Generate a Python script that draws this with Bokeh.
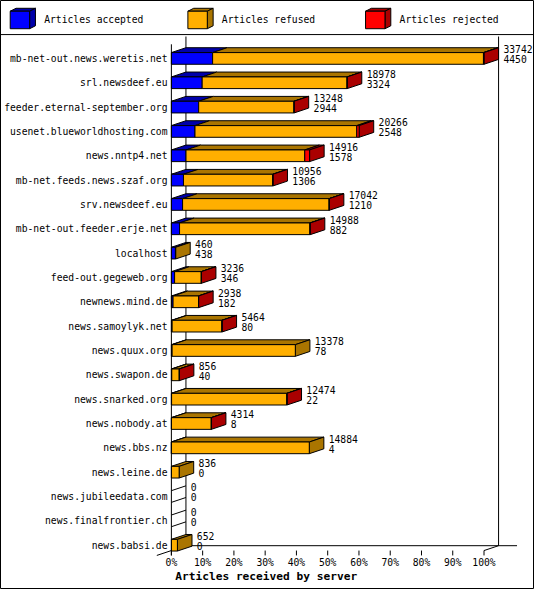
from bokeh.plotting import figure
from bokeh.models import Range1d
from bokeh.core.properties import value
from bokeh.embed import file_html
from bokeh.resources import INLINE

servers = ["mb-net-out.news.weretis.net", "srl.newsdeef.eu", "feeder.eternal-september.org",
           "usenet.blueworldhosting.com", "news.nntp4.net", "mb-net.feeds.news.szaf.org",
           "srv.newsdeef.eu", "mb-net-out.feeder.erje.net", "localhost", "feed-out.gegeweb.org",
           "newnews.mind.de", "news.samoylyk.net", "news.quux.org", "news.swapon.de",
           "news.snarked.org", "news.nobody.at", "news.bbs.nz", "news.leine.de",
           "news.jubileedata.com", "news.finalfrontier.ch", "news.babsi.de"]
total = [33742, 18978, 13248, 20266, 14916, 10956, 17042, 14988, 460, 3236, 2938,
         5464, 13378, 856, 12474, 4314, 14884, 836, 0, 0, 652]
accepted = [4450, 3324, 2944, 2548, 1578, 1306, 1210, 882, 438, 346, 182,
            80, 78, 40, 22, 8, 4, 0, 0, 0, 0]
refused = [29232, 15634, 10284, 17458, 12818, 9635, 15812, 14066, 22, 2880, 2750,
           5374, 13300, 812, 12440, 4300, 14880, 836, 0, 0, 652]
rejected = [60, 20, 20, 260, 520, 15, 20, 40, 0, 10, 6,
            10, 0, 4, 12, 6, 0, 0, 0, 0, 0]
pct_ticks = [0, 10, 20, 30, 40, 50, 60, 70, 80, 90, 100]

series = [("Articles accepted", accepted, "#0000FF", "#0000AA"),
          ("Articles refused", refused, "#FFAF00", "#AA7500"),
          ("Articles rejected", rejected, "#FF0000", "#AA0000")]

# layout is worked out on the 550x605 original, then shrunk to fit the page
REF_W, REF_H = 550, 605
W, H = 534, 589
S = W / REF_W
X0, PX_PCT = 176, 3.22      # 0% position, pixels per percent
Y0, ROW = 59.5, 25          # first row centre, row pitch
DX, DY = 15 / PX_PCT, 5 / ROW
BAR_H = 0.48
FLOOR = (565 - Y0) / ROW
TOP = (37 - Y0) / ROW
FONT = value("DejaVu Sans Mono")
fs = lambda px: "%.1fpx" % (px * S)

p = figure(width=W, height=H, output_backend="svg", toolbar_location=None,
           x_range=Range1d(-X0 / PX_PCT, (REF_W - X0) / PX_PCT),
           y_range=Range1d((REF_H - Y0) / ROW, -Y0 / ROW),
           x_axis_location=None, y_axis_location=None, min_border=0)
p.extra_x_ranges = {"px": Range1d(0, REF_W)}
p.extra_y_ranges = {"px": Range1d(REF_H, 0)}
p.xgrid.visible = False
p.ygrid.visible = False
p.outline_line_color = "black"
p.background_fill_color = "white"
p.border_fill_color = "white"

# legend strip
p.segment(x0=[0], y0=[35], x1=[REF_W], y1=[35], line_color="black",
          x_range_name="px", y_range_name="px")
for k, (name, vals, c, dark) in enumerate(series):
    lx = 10 + 183 * k
    p.patches(xs=[[lx, lx + 20, lx + 26, lx + 6], [lx + 20, lx + 20, lx + 26, lx + 26]],
              ys=[[11, 11, 8, 8], [11, 29, 26, 8]], fill_color=dark, line_color="black",
              x_range_name="px", y_range_name="px")
    p.quad(left=[lx], right=[lx + 20], top=[11], bottom=[29], fill_color=c,
           line_color="black", x_range_name="px", y_range_name="px")
    p.text(x=[lx + 35], y=[20], text=[name], text_font=FONT, text_font_size=fs(10),
           text_baseline="middle", x_range_name="px", y_range_name="px")

# walls and floor
walls_x0 = [DX, 100 + DX, DX, -DX, 100]
walls_y0 = [TOP, TOP, FLOOR - DY, FLOOR + DY, FLOOR]
walls_x1 = [DX, 100 + DX, 100 + DX + 19 / PX_PCT, DX, 100 + DX]
walls_y1 = [FLOOR - DY, FLOOR - DY, FLOOR - DY, FLOOR - DY, FLOOR - DY]
p.segment(x0=walls_x0, y0=walls_y0, x1=walls_x1, y1=walls_y1, line_color="black")
p.segment(x0=pct_ticks, y0=[FLOOR] * len(pct_ticks), x1=pct_ticks,
          y1=[FLOOR + 5 / ROW] * len(pct_ticks), line_color="black")
p.text(x=pct_ticks, y=[(577 - Y0) / ROW] * len(pct_ticks),
       text=["%d%%" % t for t in pct_ticks], text_font=FONT, text_font_size=fs(10),
       text_align="center", text_baseline="middle")

# bars
maxv = max(total)
fl, fr, ft, fb, fc = [], [], [], [], []
pxs, pys, pc = [], [], []
zx0, zy0, zx1, zy1 = [], [], [], []
lab_x, lab_y, lab_t = [], [], []
for i in range(len(servers)):
    yt, yb = i - BAR_H / 2, i + BAR_H / 2
    x = 0.0
    last = None
    for name, vals, c, dark in series:
        v = vals[i]
        if v == 0:
            continue
        w = v / maxv * 100
        fl.append(x); fr.append(x + w); ft.append(yt); fb.append(yb); fc.append(c)
        pxs.append([x, x + w, x + w + DX, x + DX]); pys.append([yt, yt, yt - DY, yt - DY])
        pc.append(dark)
        x += w
        last = dark
    if last:
        pxs.append([x, x, x + DX, x + DX]); pys.append([yt, yb, yb - DY, yt - DY])
        pc.append(last)
    else:
        zx0 += [0, 0]; zy0 += [yt, yb]; zx1 += [DX, DX]; zy1 += [yt - DY, yb - DY]
    lab_x += [x + 20 / PX_PCT] * 2
    lab_y += [i - 9.5 / ROW, i + 1.0 / ROW]
    lab_t += [str(total[i]), str(accepted[i])]

p.segment(x0=zx0, y0=zy0, x1=zx1, y1=zy1, line_color="black")
p.patches(xs=pxs, ys=pys, fill_color=pc, line_color="black")
p.quad(left=fl, right=fr, top=ft, bottom=fb, fill_color=fc, line_color="black")
p.segment(x0=[0], y0=[(45 - Y0) / ROW], x1=[0], y1=[(570 - Y0) / ROW], line_color="black")

p.text(x=lab_x, y=lab_y, text=lab_t, text_font=FONT, text_font_size=fs(10),
       text_baseline="middle")
p.text(x=[-4 / PX_PCT] * len(servers), y=list(range(len(servers))), text=servers,
       text_font=FONT, text_font_size=fs(10), text_align="right", text_baseline="middle")
p.text(x=[4 / PX_PCT], y=[(592 - Y0) / ROW], text=["Articles received by server"],
       text_font=value("DejaVu Sans Mono"), text_font_style="bold",
       text_font_size=fs(11.5), text_baseline="middle")

open("out.html", "w").write(file_html(p, INLINE))
